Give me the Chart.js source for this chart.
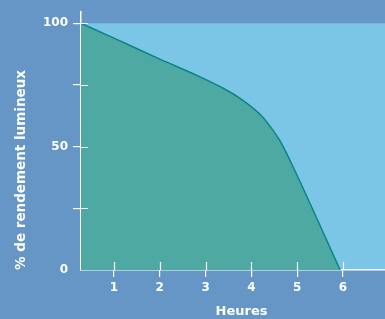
<!DOCTYPE html>
<html>
<head>
<meta charset="utf-8">
<script src="https://cdn.jsdelivr.net/npm/chart.js@4/dist/chart.umd.min.js"></script>
<style>
  html, body { margin: 0; padding: 0; overflow: hidden; background: #6696c6; }
  #wrap { width: 402px; height: 319px; }
</style>
</head>
<body>
<div id="wrap"><canvas id="myChart"></canvas></div>
<script>
// Data (hours vs % light output)
const hours = [0.28, 1, 2, 2.88, 3.32, 3.76, 4.19, 4.41, 4.63, 4.85, 5.94];
const output = [100, 94, 85.5, 78.3, 74.3, 69.5, 63.1, 58.2, 52.2, 44.2, 0];
const yLabels = [0, 50, 100];

const outerColor = '#6696c6';
const plotColor = '#7bc6e6';
const fillColor = '#4ea9a2';
const lineColor = '#0a8585';
const font = { family: 'DejaVu Sans', weight: 'bold', size: 12 };

// Paint the backgrounds: outer blue, light blue plot up to 100%
const backgrounds = {
  id: 'backgrounds',
  beforeDraw(chart) {
    const { ctx, chartArea, scales } = chart;
    ctx.save();
    ctx.fillStyle = outerColor;
    ctx.fillRect(0, 0, chart.width, chart.height);
    const top = scales.y.getPixelForValue(100);
    ctx.fillStyle = plotColor;
    ctx.fillRect(chartArea.left, top, chartArea.right - chartArea.left, chartArea.bottom - top);
    ctx.restore();
  }
};

// Tick marks in the picture cross the axis, draw the inner half
const innerTicks = {
  id: 'innerTicks',
  afterDraw(chart) {
    const { ctx, chartArea, scales } = chart;
    ctx.save();
    ctx.strokeStyle = '#ffffff';
    ctx.lineWidth = 1.2;
    ctx.beginPath();
    scales.y.ticks.forEach(t => {
      if (t.value === 0) return;
      const y = Math.round(scales.y.getPixelForValue(t.value)) + 0.5;
      ctx.moveTo(chartArea.left, y);
      ctx.lineTo(chartArea.left + 7, y);
    });
    scales.x.ticks.forEach(t => {
      const x = Math.round(scales.x.getPixelForValue(t.value)) + 0.5;
      ctx.moveTo(x, chartArea.bottom);
      ctx.lineTo(x, chartArea.bottom - 8);
    });
    ctx.stroke();
    ctx.restore();
  }
};

const ctx = document.getElementById('myChart').getContext('2d');
const myChart = new Chart(ctx, {
  type: 'line',
  data: {
    datasets: [{
      data: hours.map((h, i) => ({ x: h, y: output[i] })),
      borderColor: lineColor,
      borderWidth: 1.5,
      backgroundColor: fillColor,
      fill: 'origin',
      pointRadius: 0,
      cubicInterpolationMode: 'monotone'
    }]
  },
  options: {
    responsive: true,
    maintainAspectRatio: false,
    animation: false,
    layout: { padding: { top: 10, right: 0, left: 0, bottom: 0 } },
    plugins: {
      legend: { display: false },
      tooltip: { enabled: false }
    },
    scales: {
      x: {
        type: 'linear',
        z: 1,
        min: 0.28,
        max: 7.29,
        afterBuildTicks: scale => {
          scale.ticks = scale.ticks.filter(t => Number.isInteger(t.value) && t.value > 0);
        },
        afterFit: scale => { scale.height = 49; },
        ticks: {
          stepSize: 1,
          includeBounds: false,
          autoSkip: false,
          color: '#ffffff',
          font: font,
          padding: 4,
          maxRotation: 0
        },
        grid: { drawOnChartArea: false, color: '#ffffff', tickLength: 7, lineWidth: 1.2 },
        border: { color: '#ffffff', width: 1.5 },
        title: {
          display: true,
          text: 'Heures',
          color: '#ffffff',
          font: { family: 'DejaVu Sans', weight: 'bold', size: 13 },
          padding: { top: 0, bottom: 0 }
        }
      },
      y: {
        z: 1,
        min: 0,
        max: 104.5,
        afterBuildTicks: scale => {
          scale.ticks = scale.ticks.filter(t => t.value <= 100);
        },
        afterFit: scale => { scale.width = 81; },
        ticks: {
          stepSize: 25,
          includeBounds: false,
          autoSkip: false,
          color: '#ffffff',
          font: font,
          padding: 5,
          callback: v => yLabels.includes(v) ? String(v) : ''
        },
        grid: {
          drawOnChartArea: false,
          tickLength: 8,
          lineWidth: 1.2,
          color: c => (c.tick && c.tick.value === 0) ? 'rgba(0,0,0,0)' : '#ffffff'
        },
        border: { color: '#ffffff', width: 1.5 },
        title: {
          display: true,
          text: '% de rendement lumineux',
          align: 'start',
          color: '#ffffff',
          font: { family: 'DejaVu Sans', weight: 'bold', size: 13.5 },
          padding: { top: 13, bottom: 0 }
        }
      }
    }
  },
  plugins: [backgrounds, innerTicks]
});
</script>
</body>
</html>
